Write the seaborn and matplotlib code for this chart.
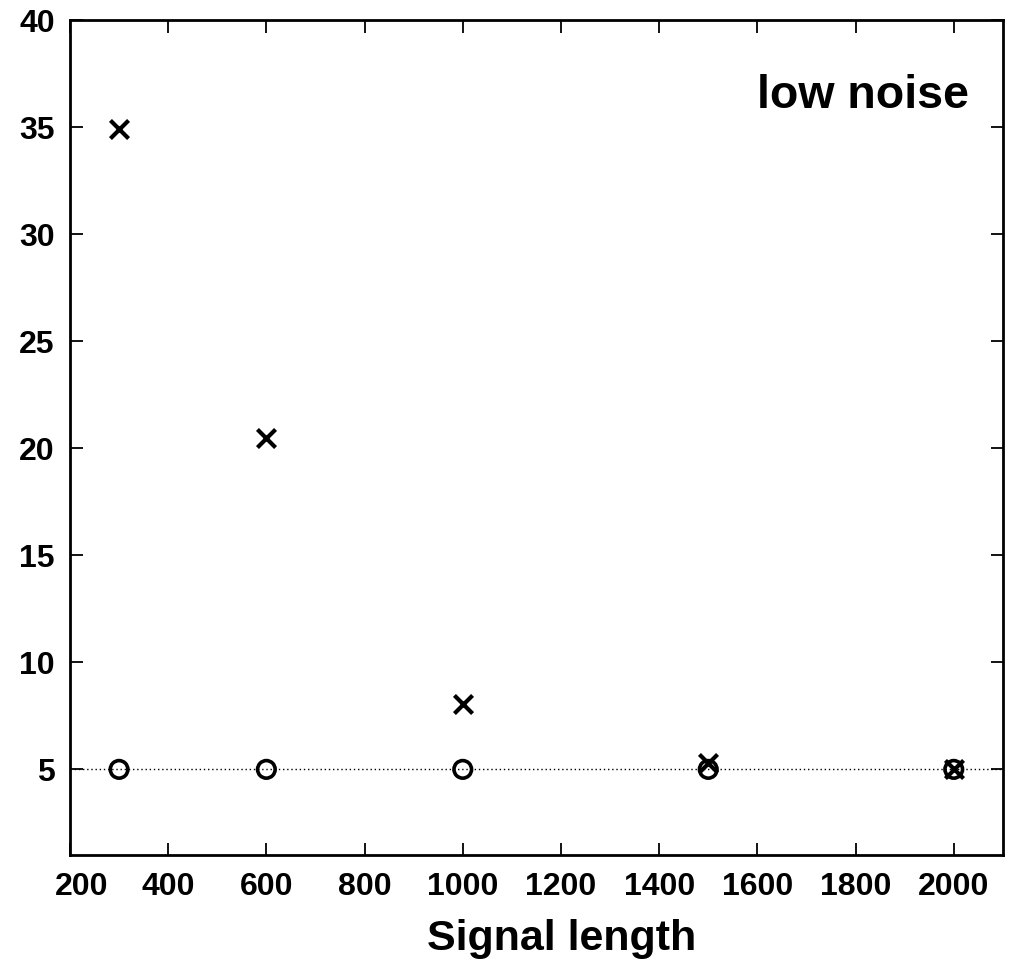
import matplotlib
matplotlib.use("Agg")
import matplotlib.pyplot as plt
import matplotlib.transforms as mtransforms
import seaborn as sns
import pandas as pd

# Signal lengths and the two measured series
signal_length = [300, 600, 1000, 1500, 2000]
series_x = [34.9, 20.5, 8.05, 5.3, 5.0]
series_o = [5.0, 5.0, 5.0, 5.0, 5.0]
reference_level = 5
x_ticks = [200, 400, 600, 800, 1000, 1200, 1400, 1600, 1800, 2000]
y_ticks = [5, 10, 15, 20, 25, 30, 35, 40]

sns.set_theme(style="ticks", rc={
    "text.color": "black", "axes.labelcolor": "black",
    "xtick.color": "black", "ytick.color": "black",
    "axes.edgecolor": "black",
})
plt.rcParams["font.family"] = ["Liberation Sans", "DejaVu Sans"]
plt.rcParams["font.weight"] = "bold"

df = pd.DataFrame({"length": signal_length, "x": series_x, "o": series_o})

fig = plt.figure(figsize=(10.14, 9.65), dpi=100)
ax = fig.add_axes([0.069, 0.114, 0.920, 0.865])

ax.axhline(reference_level, color="black", lw=1.0, ls=(0, (1, 2)), zorder=1)

sns.scatterplot(data=df, x="length", y="o", ax=ax, marker="o", s=160,
                facecolors="none", edgecolor="black", linewidth=2.6, zorder=3)
sns.scatterplot(data=df, x="length", y="x", ax=ax, marker="x", s=170,
                color="black", linewidth=3.0, zorder=4)

ax.set_xlim(200, 2100)
ax.set_ylim(1, 40)
ax.set_xticks(x_ticks)
ax.set_yticks(y_ticks)
ax.tick_params(direction="in", length=9, width=1.3, top=True, right=True,
               labelsize=23)
ax.tick_params(axis="x", pad=12)
ax.tick_params(axis="y", pad=11)
for lab in ax.get_xticklabels() + ax.get_yticklabels():
    lab.set_fontweight("bold")
for sp in ax.spines.values():
    sp.set_linewidth(2.0)
    sp.set_color("black")

# nudge the leftmost x tick label inward so it clears the corner
first = ax.xaxis.get_major_ticks()[0].label1
first.set_transform(first.get_transform()
                    + mtransforms.ScaledTranslation(12 / 100, 0, fig.dpi_scale_trans))

ax.set_xlabel("Signal length", fontsize=31, fontweight="bold")
ax.xaxis.set_label_coords(0.527, -0.077)
ax.set_ylabel("")
ax.text(0.964, 0.8946, "low noise", transform=ax.transAxes, ha="right",
        va="baseline", fontsize=33.5, fontweight="bold")

fig.savefig("out.png", dpi=100)
